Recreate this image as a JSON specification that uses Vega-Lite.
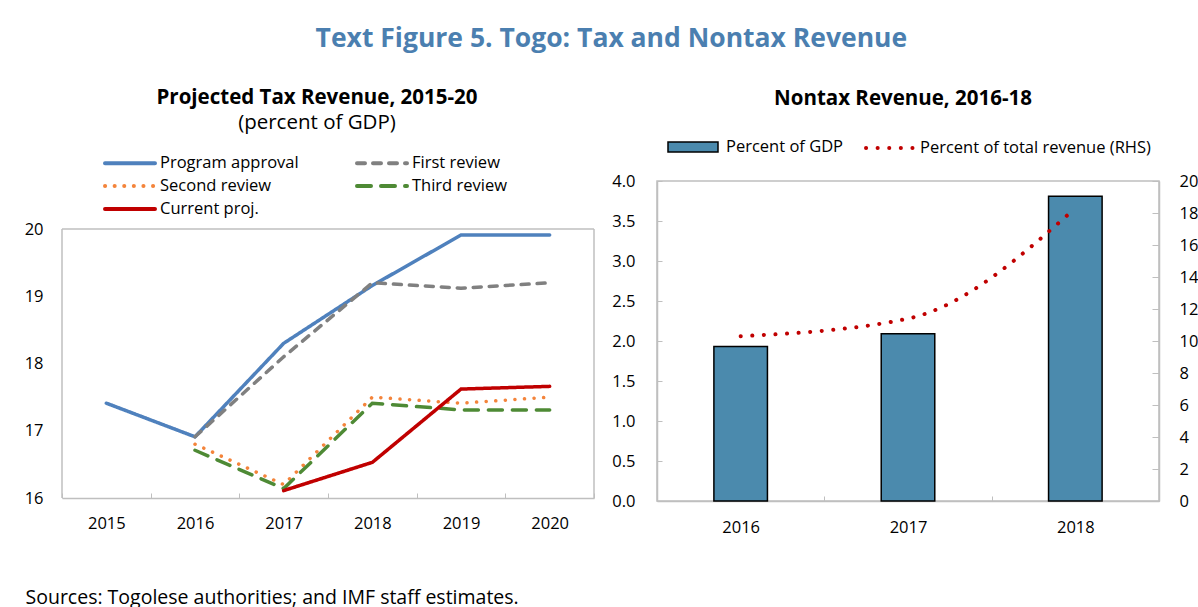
{
  "$schema": "https://vega.github.io/schema/vega-lite/v6.json",
  "background": "white",
  "padding": {"left": 24, "top": 26, "right": 0, "bottom": 0},
  "title": {"text": "Text Figure 5. Togo: Tax and Nontax Revenue", "font": "Open Sans", "fontSize": 26.5, "fontWeight": "bold", "color": "#4b7fb0", "anchor": "middle", "offset": 35},
  "config": {
    "font": "Open Sans",
    "view": {"stroke": "#bfbfbf", "strokeWidth": 1.5},
    "axis": {"labelFont": "Open Sans", "labelFontSize": 16.5, "labelColor": "black", "domainColor": "#bfbfbf", "domainWidth": 1.5, "tickColor": "#bfbfbf", "tickWidth": 1, "grid": false, "titleFont": "Open Sans"},
    "legend": {"labelFont": "Open Sans", "labelFontSize": 16.5, "labelColor": "black", "title": null, "labelLimit": 400},
    "title": {"font": "Open Sans", "color": "black", "subtitleFont": "Open Sans", "subtitleColor": "black"}
  },
  "align": "none",
  "spacing": 16,
  "hconcat": [
    {
      "width": 532,
      "height": 317,
      "view": {"stroke": null},
      "title": {"text": "Projected Tax Revenue, 2015-20", "subtitle": "(percent of GDP)", "fontSize": 20.5, "fontWeight": "bold", "subtitleFontSize": 20.5, "subtitlePadding": 4, "anchor": "middle", "dx": -11, "offset": 48},
      "layer": [
        {
          "data": {"values": [{"edge": "frame"}]},
          "mark": {"type": "rule", "stroke": "#bfbfbf", "strokeWidth": 1.5},
          "encoding": {"y": {"datum": 20, "type": "quantitative"}}
        },
        {
          "data": {"values": [{"edge": "frame"}]},
          "mark": {"type": "rule", "stroke": "#bfbfbf", "strokeWidth": 1.5},
          "encoding": {"x": {"datum": "2015", "type": "nominal", "bandPosition": 0}, "y": {"datum": 16, "type": "quantitative"}, "y2": {"datum": 20}}
        },
        {
          "data": {"values": [{"edge": "frame"}]},
          "mark": {"type": "rule", "stroke": "#bfbfbf", "strokeWidth": 1.5},
          "encoding": {"x": {"datum": "2020", "type": "nominal", "bandPosition": 1}, "y": {"datum": 16, "type": "quantitative"}, "y2": {"datum": 20}}
        },
        {
          "data": {"values": [
            {"year": "2015", "series": "Program approval", "value": 17.41},
            {"year": "2016", "series": "Program approval", "value": 16.91},
            {"year": "2017", "series": "Program approval", "value": 18.3},
            {"year": "2018", "series": "Program approval", "value": 19.16},
            {"year": "2019", "series": "Program approval", "value": 19.91},
            {"year": "2020", "series": "Program approval", "value": 19.91},
            {"year": "2016", "series": "First review", "value": 16.91},
            {"year": "2017", "series": "First review", "value": 18.1},
            {"year": "2018", "series": "First review", "value": 19.2},
            {"year": "2019", "series": "First review", "value": 19.12},
            {"year": "2020", "series": "First review", "value": 19.2},
            {"year": "2016", "series": "Second review", "value": 16.8},
            {"year": "2017", "series": "Second review", "value": 16.2},
            {"year": "2018", "series": "Second review", "value": 17.5},
            {"year": "2019", "series": "Second review", "value": 17.41},
            {"year": "2020", "series": "Second review", "value": 17.5},
            {"year": "2016", "series": "Third review", "value": 16.71},
            {"year": "2017", "series": "Third review", "value": 16.14},
            {"year": "2018", "series": "Third review", "value": 17.41},
            {"year": "2019", "series": "Third review", "value": 17.31},
            {"year": "2020", "series": "Third review", "value": 17.31},
            {"year": "2017", "series": "Current proj.", "value": 16.11},
            {"year": "2018", "series": "Current proj.", "value": 16.53},
            {"year": "2019", "series": "Current proj.", "value": 17.62},
            {"year": "2020", "series": "Current proj.", "value": 17.66}
          ]},
          "mark": {"type": "line", "strokeWidth": 3.5, "strokeCap": "round"},
          "encoding": {
            "x": {"field": "year", "type": "nominal", "bandPosition": 0.5,
              "scale": {"type": "band", "paddingInner": 0, "paddingOuter": 0, "domain": ["2015", "2016", "2017", "2018", "2019", "2020"]},
              "axis": {"labelAngle": 0, "labelAlign": "center", "labelBaseline": "top", "bandPosition": 0.5, "tickBand": "extent", "tickSize": -5, "labelPadding": 22,
                "title": "Sources: Togolese authorities; and IMF staff estimates.", "titleFontSize": 19.5, "titleFontWeight": "normal", "titleColor": "black",
                "titleAnchor": "start", "titleAlign": "left", "titleX": -37, "titleY": 90}},
            "y": {"field": "value", "type": "quantitative", "scale": {"domain": [16, 20.714], "nice": false, "zero": false},
              "axis": {"values": [16, 17, 18, 19, 20], "format": "d", "ticks": false, "domain": false, "labelPadding": 19, "title": null}},
            "color": {"field": "series", "type": "nominal",
              "scale": {"domain": ["Program approval", "First review", "Second review", "Third review", "Current proj."],
                        "range": ["#4f81bd", "#808080", "#f4843b", "#4e8a35", "#c00000"]},
              "legend": {"orient": "none", "direction": "horizontal", "legendX": 41, "legendY": -30, "columns": 2, "columnPadding": 50, "rowPadding": 2,
                         "symbolType": "M-1,0H4", "symbolSize": 400, "symbolStrokeWidth": 4, "labelOffset": 33,
                         "encode": {"symbols": {"update": {"strokeCap": {"value": "round"}}}}}},
            "strokeDash": {"field": "series", "type": "nominal",
              "scale": {"domain": ["Program approval", "First review", "Second review", "Third review", "Current proj."],
                        "range": [[1, 0], [8, 8], [0.1, 9.5], [14, 10], [1, 0]]}}
          }
        }
      ]
    },
    {
      "width": 502,
      "height": 320,
      "title": {"text": "Nontax Revenue, 2016-18", "fontSize": 20.5, "fontWeight": "bold", "anchor": "middle", "dx": -5, "offset": 27},
      "data": {"values": [
        {"year": "2016", "gdp": 1.93, "rev": 10.3},
        {"year": "2017", "gdp": 2.09, "rev": 11.4},
        {"year": "2018", "gdp": 3.81, "rev": 18.3}
      ]},
      "encoding": {
        "x": {"field": "year", "type": "nominal", "bandPosition": 0.5,
          "scale": {"type": "band", "paddingInner": 0, "paddingOuter": 0},
          "axis": {"labelAngle": 0, "tickBand": "extent", "tickSize": -5, "labelPadding": 23, "title": null}}
      },
      "layer": [
        {
          "mark": {"type": "bar", "width": {"band": 0.32}, "stroke": "black", "strokeWidth": 1.5},
          "encoding": {
            "x": {"field": "year", "type": "nominal"},
            "y": {"field": "gdp", "type": "quantitative", "scale": {"domain": [0, 4]},
              "axis": {"values": [0, 0.5, 1, 1.5, 2, 2.5, 3, 3.5, 4], "format": ".1f", "tickSize": -5, "labelPadding": 27, "title": null}},
            "fill": {"datum": "Percent of GDP", "type": "nominal", "scale": {"range": ["#4b8aad"]},
              "legend": {"orient": "none", "legendX": 10, "legendY": -45, "symbolType": "M-1,-0.5H4V0.5H-1Z", "symbolSize": 400,
                         "symbolStrokeColor": "black", "symbolStrokeWidth": 1.5, "labelOffset": 37}}
          }
        },
        {
          "mark": {"type": "line", "strokeWidth": 4, "strokeDash": [0.1, 11.5], "strokeCap": "round", "interpolate": "monotone"},
          "encoding": {
            "y": {"field": "rev", "type": "quantitative", "scale": {"domain": [0, 20]},
              "axis": {"orient": "right", "values": [0, 2, 4, 6, 8, 10, 12, 14, 16, 18, 20], "tickSize": -7, "labelPadding": 27, "title": null}},
            "stroke": {"datum": "Percent of total revenue (RHS)", "type": "nominal", "scale": {"range": ["#c00000"]},
              "legend": {"orient": "none", "legendX": 207, "legendY": -45, "symbolType": "M-1,0H4", "symbolSize": 400,
                         "symbolStrokeWidth": 4, "symbolDash": [0.1, 11.5], "labelOffset": 32,
                         "encode": {"symbols": {"update": {"strokeCap": {"value": "round"}}}}}}
          }
        }
      ],
      "resolve": {"scale": {"y": "independent", "fill": "independent", "stroke": "independent"}}
    }
  ]
}
